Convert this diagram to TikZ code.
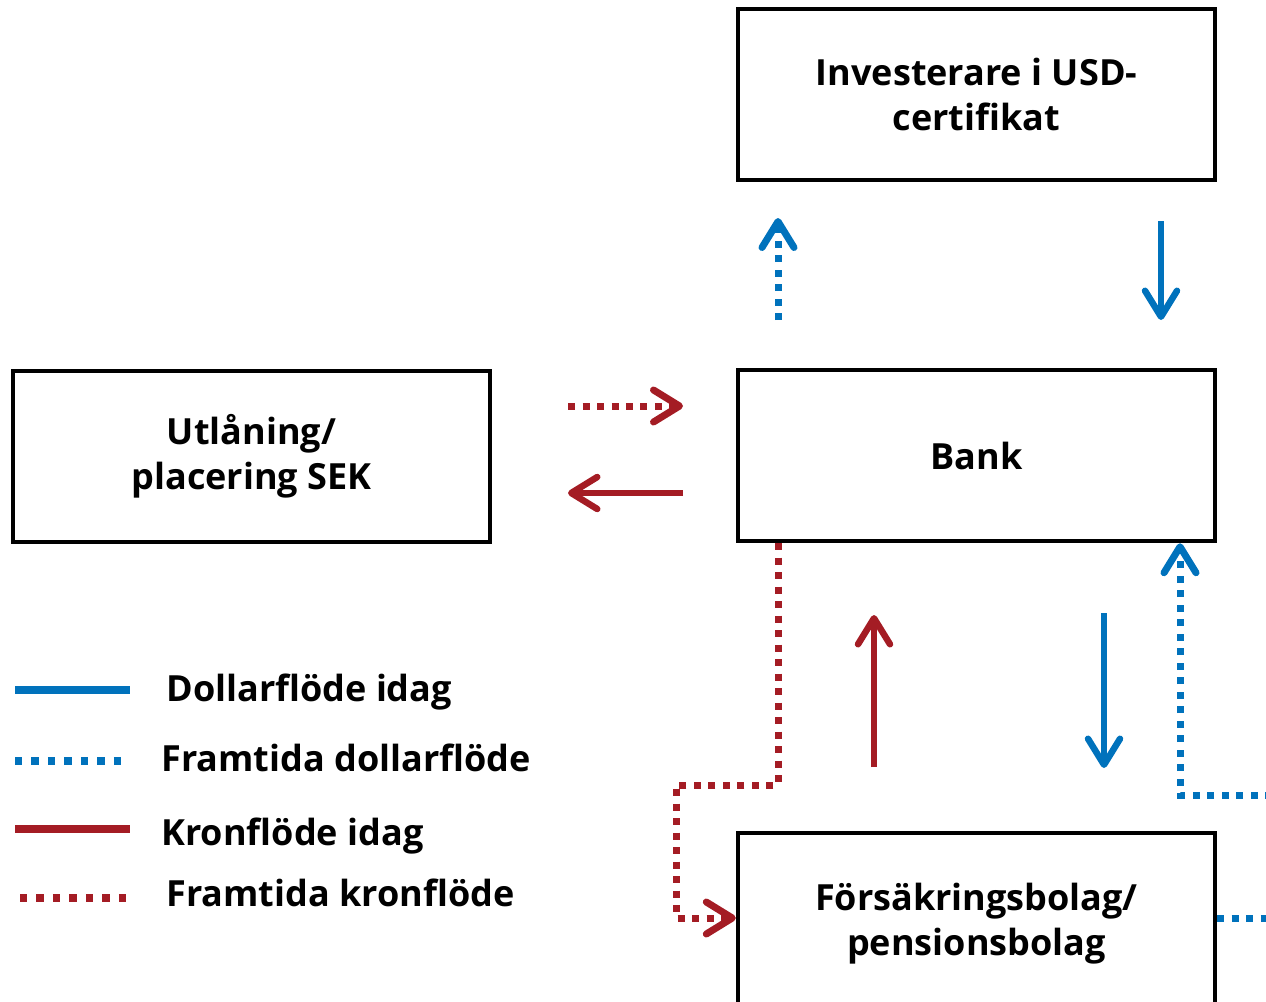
\documentclass[tikz,border=0pt]{standalone}
\usepackage{fontspec}
\setmainfont{Open Sans}
\usetikzlibrary{arrows.meta,calc}
\definecolor{cblue}{RGB}{0,114,188}
\definecolor{cred}{RGB}{164,28,36}
\begin{document}
\begin{tikzpicture}[x=0.02cm,y=-0.02cm,
 box/.style={draw=black, line width=0.09cm, minimum width=9.54cm, minimum height=3.42cm, align=center, font=\fontsize{20.5}{25.5}\selectfont\bfseries, inner sep=0pt},
 tip/.style={-{Straight Barb[round,length=0.52cm,width=0.64cm]}},
 solidflow/.style={line width=0.13cm},
 dotflow/.style={line width=0.14cm, dash pattern=on 0.14cm off 0.15cm},
 legsolid/.style={line width=0.16cm},
 legdot/.style={line width=0.15cm, dash pattern=on 0.15cm off 0.18cm},
 lbl/.style={anchor=base west, font=\fontsize{20.5}{24}\selectfont\bfseries, inner sep=0pt}
]
\useasboundingbox (0,0) rectangle (1266,1001);
\clip (0,0) rectangle (1266,1001);

\node[box] (inv) at (976.5,94.5) {Investerare i USD-\\certifikat};
\node[box] (bank) at (976.5,455.5) {Bank};
\node[box] (utl) at (251.5,456.5) {Utlåning/\\placering SEK};
\node[box, minimum height=3.62cm] (fors) at (976.5,923.5) {Försäkringsbolag/\\pensionsbolag};

% floating arrows
\coordinate (a1s) at (778,320); \coordinate (a1e) at (778,218);
\coordinate (a2s) at (1161,221); \coordinate (a2e) at (1161,320);
\coordinate (a3s) at (568,406); \coordinate (a3e) at (683,406);
\coordinate (a4s) at (683,493); \coordinate (a4e) at (568,493);
\coordinate (a5s) at (874,767); \coordinate (a5e) at (874,615);
\coordinate (a6s) at (1104,613); \coordinate (a6e) at (1104,768);

\draw[cblue, dotflow, tip] (a1s) -- (a1e);
\draw[cblue, solidflow, tip] (a2s) -- (a2e);
\draw[cred, dotflow, tip] (a3s) -- (a3e);
\draw[cred, solidflow, tip] (a4s) -- (a4e);
\draw[cred, solidflow, tip] (a5s) -- (a5e);
\draw[cblue, solidflow, tip] (a6s) -- (a6e);

% routed connectors
\coordinate (rx) at (778,785); \coordinate (rl) at (676,785); \coordinate (rb) at (676,918);
\draw[cred, dotflow, tip] (bank.south -| rx) -- (rx) -- (rl) -- (rb) -- (rb -| fors.west);

\coordinate (bx0) at (1272,795); \coordinate (bx1) at (1180,795);
\draw[cblue, dotflow, tip] (bx0) -- (bx1) -- (bank.south -| bx1);

\coordinate (bx2) at (1272,918);
\draw[cblue, dotflow] (bx2 -| fors.east) -- (bx2);

% legend
\coordinate (l1a) at (15,690); \coordinate (l1b) at (130,690);
\coordinate (l2a) at (15,761); \coordinate (l2b) at (130,761);
\coordinate (l3a) at (15,829); \coordinate (l3b) at (130,829);
\coordinate (l4a) at (20,898); \coordinate (l4b) at (135,898);
\draw[cblue, legsolid] (l1a) -- (l1b);
\draw[cblue, legdot] (l2a) -- (l2b);
\draw[cred, legsolid] (l3a) -- (l3b);
\draw[cred, legdot] (l4a) -- (l4b);
\node[lbl] (t1) at (166,701.7) {Dollarflöde idag};
\node[lbl] (t2) at (161,771.7) {Framtida dollarflöde};
\node[lbl] (t3) at (161,845) {Kronflöde idag};
\node[lbl] (t4) at (166,906.7) {Framtida kronflöde};
\end{tikzpicture}
\end{document}
